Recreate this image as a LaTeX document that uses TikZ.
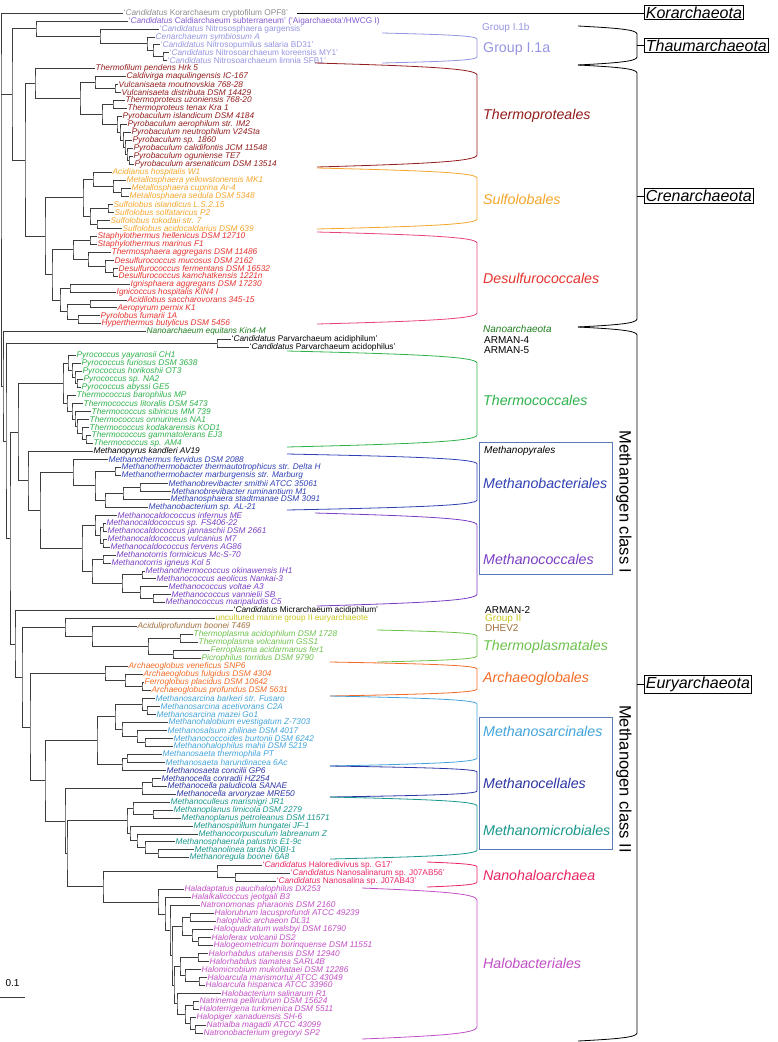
\documentclass[tikz,border=0pt]{standalone}
\usepackage{fontspec}
\setmainfont{Liberation Sans}
\usetikzlibrary{calc}

\definecolor{treegray}{HTML}{3C3C3C}
\definecolor{kor}{HTML}{8C8C8C}
\definecolor{aig}{HTML}{8059D0}
\definecolor{thaum}{HTML}{9494E2}
\definecolor{tprot}{HTML}{931C1C}
\definecolor{sulf}{HTML}{F5A52A}
\definecolor{desulf}{HTML}{E6332E}
\definecolor{desulfbr}{HTML}{E8437A}
\definecolor{nanoarch}{HTML}{1F7D1F}
\definecolor{tcoc}{HTML}{2DB24A}
\definecolor{mbact}{HTML}{2F40B4}
\definecolor{mcoc}{HTML}{7A3EC4}
\definecolor{mgtwo}{HTML}{C9C61E}
\definecolor{dhev}{HTML}{A3703E}
\definecolor{tplas}{HTML}{6CC24A}
\definecolor{aglob}{HTML}{F26A25}
\definecolor{msarc}{HTML}{42A3DB}
\definecolor{mcell}{HTML}{2B35A3}
\definecolor{mmicro}{HTML}{17968B}
\definecolor{nhalo}{HTML}{EA2462}
\definecolor{hbact}{HTML}{C24EC6}
\definecolor{boxblue}{HTML}{5B79B4}

\tikzset{
  branch/.style={draw=treegray, line width=0.8pt},
  leaf/.style={anchor=west, inner sep=0.5pt, font=\fontsize{8.3}{9}\selectfont\itshape},
  cand/.style={leaf, font=\fontsize{8.3}{9}\selectfont\upshape},
  order/.style={anchor=west, inner sep=0pt, font=\fontsize{14.2}{16}\selectfont\itshape},
  grouplabel/.style={anchor=west, inner sep=0pt, font=\fontsize{14.2}{16}\selectfont},
  tag/.style={anchor=west, inner sep=0pt, font=\fontsize{10}{11}\selectfont},
  phylum/.style={draw=black, line width=0.8pt, anchor=west, inner sep=1.5pt, font=\fontsize{16}{18}\selectfont\itshape},
  classbox/.style={draw=boxblue, line width=0.9pt},
  classlabel/.style={rotate=-90, inner sep=0pt, font=\fontsize{16.5}{18}\selectfont},
}

% clade: name, x of node, first child, second child
\newcommand{\clade}[4]{
  \coordinate (#1m) at ($(#3)!.5!(#4)$);
  \coordinate (#1) at (#2,0 |- #1m);
  \draw[branch] (#3) -| (#1) |- (#4);
}
% bracket: colour, x of bar, top x, top y, bottom y, bottom x, drop
\newcommand{\grpbrack}[7]{
  \draw[#1, line width=0.8pt] (#3,#4) .. controls ({#2-0.35*(#2-#3)},{#4+0.25*#7}) and (#2,{#4+0.45*#7}) .. (#2,{#4+#7})
    -- (#2,{#5-#7}) .. controls (#2,{#5-0.45*#7}) and ({#2-0.35*(#2-#6)},{#5-0.25*#7}) .. (#6,#5);
}

\begin{document}
\begin{tikzpicture}[x=1pt,y=-1pt]
\useasboundingbox (0,0) rectangle (777,1042);

\begin{scope}[y=-7.97pt, yshift=-13pt]
  % Korarchaeota, Aigarchaeota, Thaumarchaeota
  \node[cand,kor] (s0) at (123,0) {‘\textit{Candidatus} Korarchaeum cryptofilum OPF8’};
  \node[cand,aig] (s1) at (128,1) {‘\textit{Candidatus} Caldiarchaeum subterraneum’ (‘Aigarchaeota’/HWCG I)};
  \node[cand,thaum] (s2) at (159,2) {‘\textit{Candidatus} Nitrososphaera gargensis’};
  \node[leaf,thaum] (s3) at (155,3) {Cenarchaeum symbiosum A};
  \node[cand,thaum] (s4) at (160,4) {‘\textit{Candidatus} Nitrosopumilus salaria BD31’};
  \node[cand,thaum] (s5) at (169,5) {‘\textit{Candidatus} Nitrosoarchaeum koreensis MY1’};
  \node[cand,thaum] (s6) at (167,6) {‘\textit{Candidatus} Nitrosoarchaeum limnia SFB1’};
  % Thermoproteales
  \node[leaf,tprot] (s7) at (95,7) {Thermofilum pendens Hrk 5};
  \node[leaf,tprot] (s8) at (126,8) {Caldivirga maquilingensis IC-167};
  \node[leaf,tprot] (s9) at (118,9) {Vulcanisaeta moutnovskia 768-28};
  \node[leaf,tprot] (s10) at (121,10) {Vulcanisaeta distributa DSM 14429};
  \node[leaf,tprot] (s11) at (125,11) {Thermoproteus uzoniensis 768-20};
  \node[leaf,tprot] (s12) at (127,12) {Thermoproteus tenax Kra 1};
  \node[leaf,tprot] (s13) at (122,13) {Pyrobaculum islandicum DSM 4184};
  \node[leaf,tprot] (s14) at (127,14) {Pyrobaculum aerophilum str. IM2};
  \node[leaf,tprot] (s15) at (131,15) {Pyrobaculum neutrophilum V24Sta};
  \node[leaf,tprot] (s16) at (132,16) {Pyrobaculum sp. 1860};
  \node[leaf,tprot] (s17) at (133,17) {Pyrobaculum calidifontis JCM 11548};
  \node[leaf,tprot] (s18) at (133,18) {Pyrobaculum oguniense TE7};
  \node[leaf,tprot] (s19) at (134,19) {Pyrobaculum arsenaticum DSM 13514};
  % Sulfolobales
  \node[leaf,sulf] (s20) at (112,20) {Acidianus hospitalis W1};
  \node[leaf,sulf] (s21) at (126,21) {Metallosphaera yellowstonensis MK1};
  \node[leaf,sulf] (s22) at (131,22) {Metallosphaera cuprina Ar-4};
  \node[leaf,sulf] (s23) at (129,23) {Metallosphaera sedula DSM 5348};
  \node[leaf,sulf] (s24) at (113,24) {Sulfolobus islandicus L.S.2.15};
  \node[leaf,sulf] (s25) at (114,25) {Sulfolobus solfataricus P2};
  \node[leaf,sulf] (s26) at (110,26) {Sulfolobus tokodaii str. 7};
  \node[leaf,sulf] (s27) at (122,27) {Sulfolobus acidocaldarius DSM 639};
  % Desulfurococcales
  \node[leaf,desulf] (s28) at (97,28) {Staphylothermus hellenicus DSM 12710};
  \node[leaf,desulf] (s29) at (97,29) {Staphylothermus marinus F1};
  \node[leaf,desulf] (s30) at (111,30) {Thermosphaera aggregans DSM 11486};
  \node[leaf,desulf] (s31) at (114,31) {Desulfurococcus mucosus DSM 2162};
  \node[leaf,desulf] (s32) at (118,32) {Desulfurococcus fermentans DSM 16532};
  \node[leaf,desulf] (s33) at (118,33) {Desulfurococcus kamchatkensis 1221n};
  \node[leaf,desulf] (s34) at (130,34) {Ignisphaera aggregans DSM 17230};
  \node[leaf,desulf] (s35) at (116,35) {Ignicoccus hospitalis KIN4 I};
  \node[leaf,desulf] (s36) at (127,36) {Acidilobus saccharovorans 345-15};
  \node[leaf,desulf] (s37) at (117,37) {Aeropyrum pernix K1};
  \node[leaf,desulf] (s38) at (100,38) {Pyrolobus fumarii 1A};
  \node[leaf,desulf] (s39) at (101,39) {Hyperthermus butylicus DSM 5456};
  % Nanoarchaeota, ARMAN
  \node[leaf,nanoarch] (s40) at (146,40) {Nanoarchaeum equitans Kin4-M};
  \node[cand] (s41) at (231,41) {‘\textit{Candidatus} Parvarchaeum acidiphilum’};
  \node[cand] (s42) at (249,42) {‘\textit{Candidatus} Parvarchaeum acidophilus’};
  % Thermococcales
  \node[leaf,tcoc] (s43) at (76,43) {Pyrococcus yayanosii CH1};
  \node[leaf,tcoc] (s44) at (81,44) {Pyrococcus furiosus DSM 3638};
  \node[leaf,tcoc] (s45) at (82,45) {Pyrococcus horikoshii OT3};
  \node[leaf,tcoc] (s46) at (83,46) {Pyrococcus sp. NA2};
  \node[leaf,tcoc] (s47) at (81,47) {Pyrococcus abyssi GE5};
  \node[leaf,tcoc] (s48) at (76,48) {Thermococcus barophilus MP};
  \node[leaf,tcoc] (s49) at (83,49) {Thermococcus litoralis DSM 5473};
  \node[leaf,tcoc] (s50) at (91,50) {Thermococcus sibiricus MM 739};
  \node[leaf,tcoc] (s51) at (89,51) {Thermococcus onnurineus NA1};
  \node[leaf,tcoc] (s52) at (89,52) {Thermococcus kodakarensis KOD1};
  \node[leaf,tcoc] (s53) at (91,53) {Thermococcus gammatolerans EJ3};
  \node[leaf,tcoc] (s54) at (93,54) {Thermococcus sp. AM4};
  % Methanopyrales, Methanobacteriales
  \node[leaf] (s55) at (93,55) {Methanopyrus kandleri AV19};
  \node[leaf,mbact] (s56) at (108,56) {Methanothermus fervidus DSM 2088};
  \node[leaf,mbact] (s57) at (121,57) {Methanothermobacter thermautotrophicus str. Delta H};
  \node[leaf,mbact] (s58) at (121,58) {Methanothermobacter marburgensis str. Marburg};
  \node[leaf,mbact] (s59) at (168,59) {Methanobrevibacter smithii ATCC 35061};
  \node[leaf,mbact] (s60) at (171,60) {Methanobrevibacter ruminantium M1};
  \node[leaf,mbact] (s61) at (170,61) {Methanosphaera stadtmanae DSM 3091};
  \node[leaf,mbact] (s62) at (148,62) {Methanobacterium sp. AL-21};
  % Methanococcales
  \node[leaf,mcoc] (s63) at (117,63) {Methanocaldococcus infernus ME};
  \node[leaf,mcoc] (s64) at (106,64) {Methanocaldococcus sp. FS406-22};
  \node[leaf,mcoc] (s65) at (107,65) {Methanocaldococcus jannaschii DSM 2661};
  \node[leaf,mcoc] (s66) at (107,66) {Methanocaldococcus vulcanius M7};
  \node[leaf,mcoc] (s67) at (110,67) {Methanocaldococcus fervens AG86};
  \node[leaf,mcoc] (s68) at (116,68) {Methanotorris formicicus Mc-S-70};
  \node[leaf,mcoc] (s69) at (111,69) {Methanotorris igneus Kol 5};
  \node[leaf,mcoc] (s70) at (145,70) {Methanothermococcus okinawensis IH1};
  \node[leaf,mcoc] (s71) at (156,71) {Methanococcus aeolicus Nankai-3};
  \node[leaf,mcoc] (s72) at (168,72) {Methanococcus voltae A3};
  \node[leaf,mcoc] (s73) at (171,73) {Methanococcus vannielii SB};
  \node[leaf,mcoc] (s74) at (165,74) {Methanococcus maripaludis C5};
  % ARMAN-2, marine group II, Thermoplasmata
  \node[cand] (s75) at (233,75) {‘\textit{Candidatus} Micrarchaeum acidiphilum’};
  \node[cand,mgtwo] (s76) at (215,76) {uncultured marine group II euryarchaeote};
  \node[leaf,dhev] (s77) at (137,77) {Aciduliprofundum boonei T469};
  \node[leaf,tplas] (s78) at (193,78) {Thermoplasma acidophilum DSM 1728};
  \node[leaf,tplas] (s79) at (198,79) {Thermoplasma volcanium GSS1};
  \node[leaf,tplas] (s80) at (210,80) {Ferroplasma acidarmanus fer1};
  \node[leaf,tplas] (s81) at (201,81) {Picrophilus torridus DSM 9790};
  % Archaeoglobales
  \node[leaf,aglob] (s82) at (128,82) {Archaeoglobus veneficus SNP6};
  \node[leaf,aglob] (s83) at (143,83) {Archaeoglobus fulgidus DSM 4304};
  \node[leaf,aglob] (s84) at (144,84) {Ferroglobus placidus DSM 10642};
  \node[leaf,aglob] (s85) at (151,85) {Archaeoglobus profundus DSM 5631};
  % Methanosarcinales
  \node[leaf,msarc] (s86) at (155,86) {Methanosarcina barkeri str. Fusaro};
  \node[leaf,msarc] (s87) at (160,87) {Methanosarcina acetivorans C2A};
  \node[leaf,msarc] (s88) at (156,88) {Methanosarcina mazei Go1};
  \node[leaf,msarc] (s89) at (168,89) {Methanohalobium evestigatum Z-7303};
  \node[leaf,msarc] (s90) at (167,90) {Methanosalsum zhilinae DSM 4017};
  \node[leaf,msarc] (s91) at (173,91) {Methanococcoides burtonii DSM 6242};
  \node[leaf,msarc] (s92) at (173,92) {Methanohalophilus mahii DSM 5219};
  \node[leaf,msarc] (s93) at (162,93) {Methanosaeta thermophila PT};
  \node[leaf,msarc] (s94) at (165,94) {Methanosaeta harundinacea 6Ac};
  % Methanocellales
  \node[leaf,mcell] (s95) at (166,95) {Methanosaeta concilii GP6};
  \node[leaf,mcell] (s96) at (161,96) {Methanocella conradii HZ254};
  \node[leaf,mcell] (s97) at (167,97) {Methanocella paludicola SANAE};
  \node[leaf,mcell] (s98) at (176,98) {Methanocella arvoryzae MRE50};
  % Methanomicrobiales
  \node[leaf,mmicro] (s99) at (170,99) {Methanoculleus marisnigri JR1};
  \node[leaf,mmicro] (s100) at (173,100) {Methanoplanus limicola DSM 2279};
  \node[leaf,mmicro] (s101) at (181,101) {Methanoplanus petroleanus DSM 11571};
  \node[leaf,mmicro] (s102) at (193,102) {Methanospirillum hungatei JF-1};
  \node[leaf,mmicro] (s103) at (198,103) {Methanocorpusculum labreanum Z};
  \node[leaf,mmicro] (s104) at (175,104) {Methanosphaerula palustris E1-9c};
  \node[leaf,mmicro] (s105) at (194,105) {Methanolinea tarda NOBI-1};
  \node[leaf,mmicro] (s106) at (189,106) {Methanoregula boonei 6A8};
  % Nanohaloarchaea
  \node[cand,nhalo] (s107) at (262,107) {‘\textit{Candidatus} Haloredivivus sp. G17’};
  \node[cand,nhalo] (s108) at (290,108) {‘\textit{Candidatus} Nanosalinarum sp. J07AB56’};
  \node[cand,nhalo] (s109) at (276,109) {‘\textit{Candidatus} Nanosalina sp. J07AB43’};
  % Halobacteriales
  \node[leaf,hbact] (s110) at (184,110) {Haladaptatus paucihalophilus DX253};
  \node[leaf,hbact] (s111) at (191,111) {Halalkalicoccus jeotgali B3};
  \node[leaf,hbact] (s112) at (200,112) {Natronomonas pharaonis DSM 2160};
  \node[leaf,hbact] (s113) at (214,113) {Halorubrum lacusprofundi ATCC 49239};
  \node[leaf,hbact] (s114) at (216,114) {halophilic archaeon DL31};
  \node[leaf,hbact] (s115) at (213,115) {Haloquadratum walsbyi DSM 16790};
  \node[leaf,hbact] (s116) at (211,116) {Haloferax volcanii DS2};
  \node[leaf,hbact] (s117) at (213,117) {Halogeometricum borinquense DSM 11551};
  \node[leaf,hbact] (s118) at (208,118) {Halorhabdus utahensis DSM 12940};
  \node[leaf,hbact] (s119) at (209,119) {Halorhabdus tiamatea SARL4B};
  \node[leaf,hbact] (s120) at (201,120) {Halomicrobium mukohataei DSM 12286};
  \node[leaf,hbact] (s121) at (207,121) {Haloarcula marismortui ATCC 43049};
  \node[leaf,hbact] (s122) at (205,122) {Haloarcula hispanica ATCC 33960};
  \node[leaf,hbact] (s123) at (221,123) {Halobacterium salinarum R1};
  \node[leaf,hbact] (s124) at (199,124) {Natrinema pellirubrum DSM 15624};
  \node[leaf,hbact] (s125) at (199,125) {Haloterrigena turkmenica DSM 5511};
  \node[leaf,hbact] (s126) at (196,126) {Halopiger xanaduensis SH-6};
  \node[leaf,hbact] (s127) at (206,127) {Natrialba magadii ATCC 43099};
  \node[leaf,hbact] (s128) at (203,128) {Natronobacterium gregoryi SP2};

  % Thaumarchaeota
  \clade{ta}{163}{s5}{s6}
  \clade{tb}{153}{s4}{ta}
  \clade{tc}{147}{s3}{tb}
  \clade{td}{100}{s2}{tc}
  \clade{aig}{36}{s1}{td}
  % Thermoproteales
  \clade{p1}{129}{s18}{s19}
  \clade{p2}{127}{s17}{p1}
  \clade{p3}{125}{s16}{p2}
  \clade{p4}{123}{s15}{p3}
  \clade{p5}{120}{s14}{p4}
  \clade{p6}{117}{s13}{p5}
  \clade{th}{113}{s11}{s12}
  \clade{tp}{102}{th}{p6}
  \clade{vu}{115}{s9}{s10}
  \clade{cv}{95}{s8}{vu}
  \clade{tpc}{80}{cv}{tp}
  \clade{tpa}{35}{s7}{tpc}
  % Sulfolobales
  \clade{me2}{121}{s22}{s23}
  \clade{me1}{113}{s21}{me2}
  \clade{ac}{93}{s20}{me1}
  \clade{su1}{108}{s24}{s25}
  \clade{su2}{97}{s26}{s27}
  \clade{su}{90}{su1}{su2}
  \clade{sul}{83}{ac}{su}
  % Desulfurococcales
  \clade{st}{90}{s28}{s29}
  \clade{de1}{113}{s32}{s33}
  \clade{de2}{105}{s31}{de1}
  \clade{de3}{88}{s30}{de2}
  \clade{de4}{73}{st}{de3}
  \clade{ig}{70}{s34}{s35}
  \clade{ap}{90}{s36}{s37}
  \clade{py}{78}{s38}{s39}
  \clade{de5}{67}{ap}{py}
  \clade{de6}{60}{ig}{de5}
  \clade{des}{52}{de4}{de6}
  \clade{sd}{45}{sul}{des}
  \clade{cren}{25}{tpa}{sd}
  \clade{tack}{12}{aig}{cren}
  % Thermococcales
  \clade{py1}{77}{s46}{s47}
  \clade{py2}{75}{s45}{py1}
  \clade{py3}{72}{s44}{py2}
  \clade{py4}{68}{s43}{py3}
  \clade{tc1}{86}{s53}{s54}
  \clade{tc2}{82}{s52}{tc1}
  \clade{tc3}{77}{s51}{tc2}
  \clade{tc4}{75}{s50}{tc3}
  \clade{tc5}{72}{s49}{tc4}
  \clade{tc6}{67}{s48}{tc5}
  \clade{therm}{63}{py4}{tc6}
  % Methanobacteriales
  \clade{mt1}{115}{s57}{s58}
  \clade{mb1}{140}{s59}{s60}
  \clade{mb2}{123}{mb1}{s61}
  \clade{mb3}{105}{mb2}{s62}
  \clade{mb4}{95}{mt1}{mb3}
  \clade{mbac}{73}{s56}{mb4}
  % Methanococcales
  \clade{mc1}{103}{s64}{s65}
  \clade{mc2}{103}{s66}{s67}
  \clade{mc3}{100}{mc1}{mc2}
  \clade{mc4}{95}{s63}{mc3}
  \clade{mto}{103}{s68}{s69}
  \clade{mco1}{153}{s73}{s74}
  \clade{mco2}{140}{s72}{mco1}
  \clade{mco3}{142}{s70}{s71}
  \clade{mco4}{122}{mco3}{mco2}
  \clade{mco5}{92}{mto}{mco4}
  \clade{mcoc}{82}{mc4}{mco5}
  % Thermoplasmata
  \clade{tp1}{180}{s78}{s79}
  \clade{tp2}{173}{s80}{s81}
  \clade{tp3}{148}{tp1}{tp2}
  \clade{tp4}{92}{s77}{tp3}
  \clade{tp5}{65}{s76}{tp4}
  % Archaeoglobales
  \clade{ag1}{142}{s84}{s85}
  \clade{ag2}{125}{s83}{ag1}
  \clade{ag3}{105}{s82}{ag2}
  % Methanosarcinales, Methanocellales
  \clade{ms1}{147}{s87}{s88}
  \clade{ms2}{142}{s86}{ms1}
  \clade{ms3}{145}{s91}{s92}
  \clade{ms4}{137}{s90}{ms3}
  \clade{ms5}{122}{s89}{ms4}
  \clade{ms6}{115}{ms2}{ms5}
  \clade{ms7}{127}{s93}{s94}
  \clade{ms8}{122}{ms7}{s95}
  \clade{msar}{97}{ms6}{ms8}
  \clade{mce1}{152}{s96}{s97}
  \clade{mce2}{142}{mce1}{s98}
  % Methanomicrobiales
  \clade{mm1}{153}{s100}{s101}
  \clade{mm2}{133}{s99}{mm1}
  \clade{mm3}{158}{s105}{s106}
  \clade{mm4}{145}{s104}{mm3}
  \clade{mm5}{137}{s103}{mm4}
  \clade{mm6}{130}{s102}{mm5}
  \clade{mm7}{127}{mm2}{mm6}
  % Nanohaloarchaea, Halobacteriales
  \clade{nh1}{235}{s108}{s109}
  \clade{nh2}{217}{s107}{nh1}
  \clade{h1}{190}{s113}{s114}
  \clade{h2}{198}{s116}{s117}
  \clade{h3}{192}{s115}{h2}
  \clade{h4}{182}{h1}{h3}
  \clade{h5}{198}{s118}{s119}
  \clade{h6}{199}{s121}{s122}
  \clade{h7}{185}{s120}{h6}
  \clade{h8}{180}{h5}{h7}
  \clade{h9}{193}{s124}{s125}
  \clade{h10}{195}{s127}{s128}
  \clade{h11}{190}{s126}{h10}
  \clade{h12}{185}{h9}{h11}
  \clade{h13}{177}{s123}{h12}
  \clade{h14}{174}{h8}{h13}
  \clade{h15}{172}{h4}{h14}
  \clade{h16}{170}{s112}{h15}
  \clade{h17}{165}{s111}{h16}
  \clade{h18}{158}{s110}{h17}
  \clade{nhh}{103}{nh2}{h18}
  % class II and the backbone
  \clade{c2c}{67}{mm7}{nhh}
  \clade{c2b}{65}{mce2}{c2c}
  \clade{cl2}{45}{msar}{c2b}
  \clade{pv}{217}{s41}{s42}
  \clade{c1b}{40}{mbac}{mcoc}
  \clade{c1a}{28}{s55}{c1b}
  \clade{cl1}{18}{therm}{c1a}
  \clade{agc}{30}{ag3}{cl2}
  \clade{tpx}{22}{tp5}{agc}
  \clade{mic}{15}{s75}{tpx}
  \clade{eury}{10}{cl1}{mic}
  \clade{parv}{6}{pv}{eury}
  \clade{dpann}{3}{s40}{parv}
  \coordinate (root) at (1,0 |- tack);
  \draw[branch] (s0) -| (root) |- (dpann);
  \draw[branch] (root) -- (tack);
\end{scope}

% order brackets
\grpbrack{thaum}{477}{382}{33}{63}{382}{6}
\grpbrack{tprot}{477}{315}{63}{167}{317}{12}
\grpbrack{sulf}{477}{317}{168}{229}{317}{10}
\grpbrack{desulfbr}{477}{317}{232}{324}{317}{11}
\grpbrack{tcoc}{477}{287}{351}{447}{287}{12}
\grpbrack{mbact}{477}{287}{454}{510}{287}{10}
\grpbrack{mcoc}{477}{315}{513}{606}{317}{12}
\grpbrack{tplas}{477}{377}{630}{662}{377}{6}
\grpbrack{aglob}{477}{330}{662}{696}{330}{7}
\grpbrack{msarc}{477}{330}{696}{766}{330}{8}
\grpbrack{mcell}{477}{330}{766}{797}{330}{6}
\grpbrack{mmicro}{477}{330}{797}{859}{330}{9}
\grpbrack{nhalo}{477}{427}{862}{887}{427}{5}
\grpbrack{hbact}{477}{362}{888}{1039}{362}{12}

% order names
\node[tag,thaum] (g1b) at (482,28) {Group I.1b};
\node[grouplabel,thaum] (g1a) at (483,49) {Group I.1a};
\node[order,tprot] (othp) at (483,116) {Thermoproteales};
\node[order,sulf] (osul) at (483,199) {Sulfolobales};
\node[order,desulf] (odes) at (483,278) {Desulfurococcales};
\node[tag,nanoarch,font=\fontsize{10}{11}\selectfont\itshape] (onan) at (483,329) {Nanoarchaeota};
\node[tag] (arm4) at (484,340) {ARMAN-4};
\node[tag] (arm5) at (484,350) {ARMAN-5};
\node[order,tcoc] (otco) at (483,400) {Thermococcales};
\node[tag,font=\fontsize{10}{11}\selectfont\itshape] (opyr) at (484,451) {Methanopyrales};
\node[order,mbact] (omba) at (483,483) {Methanobacteriales};
\node[order,mcoc] (omco) at (483,559) {Methanococcales};
\node[tag] (arm2) at (485,610) {ARMAN-2};
\node[tag,mgtwo] (grp2) at (485,619) {Group II};
\node[tag,dhev] (dhev2) at (485,628) {DHEV2};
\node[order,tplas] (otpl) at (483,647) {Thermoplasmatales};
\node[order,aglob] (oagl) at (483,679) {Archaeoglobales};
\node[order,msarc] (omsa) at (483,731) {Methanosarcinales};
\node[order,mcell] (omce) at (483,783) {Methanocellales};
\node[order,mmicro] (ommi) at (483,830) {Methanomicrobiales};
\node[order,nhalo] (onha) at (483,875) {Nanohaloarchaea};
\node[order,hbact] (ohba) at (483,963) {Halobacteriales};

% methanogen classes
\draw[classbox] (479,442) rectangle (612,574);
\draw[classbox] (479,717) rectangle (612,849);
\node[classlabel] (mcl1) at (624,502) {Methanogen class I};
\node[classlabel] (mcl2) at (624,779) {Methanogen class II};

% phyla
\grpbrack{black}{637}{578}{26}{65}{578}{8}
\grpbrack{black}{637}{578}{65}{327}{578}{8}
\grpbrack{black}{637}{578}{327}{1041}{578}{8}
\node[phylum] (kor) at (644,12.5) {Korarchaeota};
\node[phylum] (thaumbox) at (644,45.5) {Thaumarchaeota};
\node[phylum] (crenbox) at (644,196) {Crenarchaeota};
\node[phylum] (eurybox) at (644,684.5) {Euryarchaeota};
\coordinate (thaumtick) at (637,45.5);
\coordinate (crentick) at (637,196);
\coordinate (eurytick) at (637,684.5);
\draw[line width=0.8pt] (thaumtick) -- (thaumbox.west);
\draw[line width=0.8pt] (crentick) -- (crenbox.west);
\draw[line width=0.8pt] (eurytick) -- (eurybox.west);
\draw[line width=0.9pt] ([xshift=8pt]s0.east) -- (s0.east -| kor.west);

% scale bar
\node[font=\fontsize{10}{12}\selectfont] (sbl) at (12.5,983) {0.1};
\coordinate (sba) at (0,997);
\coordinate (sbb) at (25,997);
\draw[branch] (sba) -- (sbb);
\end{tikzpicture}
\end{document}
